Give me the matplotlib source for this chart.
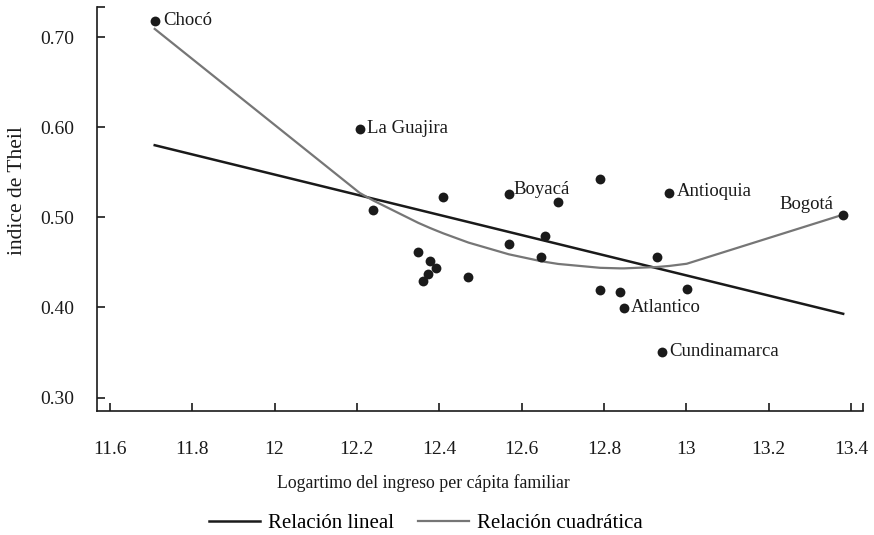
import numpy as np
import matplotlib
matplotlib.use('Agg')
import matplotlib.pyplot as plt
from matplotlib.lines import Line2D

plt.rcParams['font.family'] = ['Liberation Serif', 'DejaVu Serif']

# log income per capita vs Theil index, by department
x_vals = [11.709, 12.207, 12.240, 12.410, 12.569, 12.689, 12.791, 12.959, 13.381,
          12.657, 12.569, 12.648, 12.928, 12.349, 12.377, 12.392, 12.372, 12.361,
          12.471, 12.791, 12.839, 12.849, 13.001, 12.941]
y_vals = [0.718, 0.598, 0.508, 0.523, 0.526, 0.517, 0.543, 0.5275, 0.503,
          0.479, 0.470, 0.4565, 0.4565, 0.462, 0.452, 0.4436, 0.437, 0.4295,
          0.4343, 0.4195, 0.4176, 0.399, 0.4203, 0.351]
names = ['Chocó', 'La Guajira', '', '', 'Boyacá', '', '', 'Antioquia', 'Bogotá',
         '', '', '', '', '', '', '', '', '',
         '', '', '', 'Atlantico', '', 'Cundinamarca']

# fitted lines
lin_x = [11.709, 13.381]
lin_y = [0.580, 0.393]
quad_x = [11.709, 12.207, 12.240, 12.349, 12.361, 12.372, 12.377, 12.392, 12.410,
          12.471, 12.569, 12.648, 12.657, 12.689, 12.791, 12.839, 12.849, 12.928,
          12.941, 12.959, 13.001, 13.381]
quad_y = [0.709, 0.527, 0.5186, 0.4939, 0.4915, 0.4893, 0.4883, 0.4855, 0.4822,
          0.4720, 0.4590, 0.4513, 0.4506, 0.4483, 0.4440, 0.4434, 0.4434, 0.4449,
          0.4454, 0.4461, 0.4485, 0.503]

x_ticks = [11.6, 11.8, 12, 12.2, 12.4, 12.6, 12.8, 13, 13.2, 13.4]
x_labels = ['11.6', '11.8', '12', '12.2', '12.4', '12.6', '12.8', '13', '13.2', '13.4']
y_ticks = [0.30, 0.40, 0.50, 0.60, 0.70]

# label offsets in points (dx, dy, ha)
label_pos = {
    'Chocó': (6, 0, 'left'),
    'La Guajira': (5, 0, 'left'),
    'Boyacá': (3, 3, 'left'),
    'Antioquia': (5, 1, 'left'),
    'Bogotá': (-7, 7, 'right'),
    'Atlantico': (5, 1, 'left'),
    'Cundinamarca': (5, 0, 'left'),
}

fig = plt.figure(figsize=(8.74, 5.35), dpi=100)
ax = fig.add_axes([0.1106, 0.2318, 0.8772, 0.7546])

ax.plot(lin_x, lin_y, color='#1a1a1a', lw=1.8, zorder=2)
ax.plot(quad_x, quad_y, color='#767676', lw=1.6, zorder=2)
ax.scatter(x_vals, y_vals, s=50, color='#1a1a1a', zorder=3, linewidths=0)

for xv, yv, nm in zip(x_vals, y_vals, names):
    if nm:
        dx, dy, ha = label_pos[nm]
        ax.annotate(nm, (xv, yv), xytext=(dx, dy), textcoords='offset points',
                    ha=ha, va='center', fontsize=13.5, color='#1a1a1a')

ax.set_xlim(11.568, 13.43)
ax.set_ylim(0.2852, 0.733)
ax.set_xticks(x_ticks)
ax.set_xticklabels(x_labels)
ax.set_yticks(y_ticks)
ax.set_yticklabels(['%.2f' % v for v in y_ticks])
# end-of-axis ticks
ax.set_xticks([13.43], minor=True)
ax.set_yticks([0.733], minor=True)

for s in ['top', 'right']:
    ax.spines[s].set_visible(False)
for s in ['left', 'bottom']:
    ax.spines[s].set_linewidth(1.2)
    ax.spines[s].set_color('#1a1a1a')

ax.tick_params(axis='both', which='both', direction='in', length=6, width=1.2,
               color='#1a1a1a', labelsize=14, labelcolor='#1a1a1a')
ax.tick_params(axis='x', which='major', pad=21.5)
ax.tick_params(axis='y', which='major', pad=16)

ax.set_xlabel('Logartimo del ingreso per cápita familiar', fontsize=12.8,
              color='#1a1a1a', va='center')
ax.xaxis.set_label_coords(0.4256, -0.178)
ax.set_ylabel('indice de Theil', fontsize=15.5, color='#1a1a1a', va='center')
ax.yaxis.set_label_coords(-0.103, 0.545)

handles = [Line2D([], [], color='#1a1a1a', lw=1.8),
           Line2D([], [], color='#767676', lw=1.6)]
fig.legend(handles, ['Relación lineal', 'Relación cuadrática'], loc='center',
           bbox_to_anchor=(0.4874, 0.022), ncol=2, frameon=False, fontsize=15,
           handlelength=2.45, columnspacing=1.15, handletextpad=0.4)

fig.savefig('out.png', dpi=100)
